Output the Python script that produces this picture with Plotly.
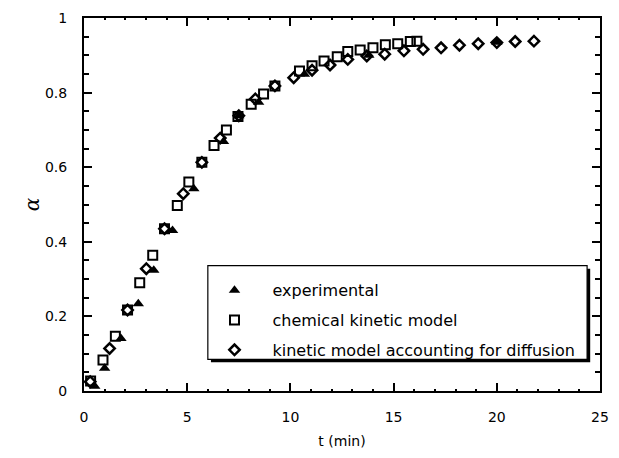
import plotly.graph_objects as go

# experimental (filled triangles)
exp_t = [0.52, 1.0, 1.79, 2.63, 3.38, 4.29, 5.32, 6.76, 7.5, 8.46, 10.68, 13.8, 20.0]
exp_a = [0.013, 0.061, 0.141, 0.234, 0.324, 0.43, 0.542, 0.669, 0.738, 0.774, 0.849, 0.90, 0.935]

# chemical kinetic model (open squares)
chem_t = [0.32, 0.92, 1.52, 2.11, 2.7, 3.33, 3.9, 4.52, 5.08, 5.71, 6.3, 6.9, 7.46, 8.1, 8.7,
          9.25, 10.44, 11.05, 11.63, 12.27, 12.78, 13.38, 14.0, 14.6, 15.2, 15.81, 16.13]
chem_a = [0.027, 0.083, 0.147, 0.217, 0.29, 0.364, 0.435, 0.497, 0.56, 0.613, 0.658, 0.70, 0.736,
          0.769, 0.796, 0.818, 0.858, 0.872, 0.885, 0.896, 0.91, 0.914, 0.92, 0.928, 0.931, 0.937, 0.938]

# kinetic model accounting for diffusion (open diamonds)
diff_t = [0.3, 1.24, 2.11, 3.02, 3.9, 4.81, 5.71, 6.6, 7.5, 8.3, 9.25, 10.16, 11.05, 11.92, 12.78,
          13.7, 14.57, 15.5, 16.43, 17.3, 18.19, 19.1, 20.0, 20.89, 21.8]
diff_a = [0.025, 0.114, 0.217, 0.328, 0.435, 0.529, 0.613, 0.678, 0.738, 0.783, 0.818, 0.84, 0.86,
          0.874, 0.889, 0.898, 0.903, 0.912, 0.916, 0.92, 0.927, 0.931, 0.934, 0.937, 0.938]

series_names = ["experimental", "chemical kinetic model", "kinetic model accounting for diffusion"]

font_family = "DejaVu Sans, Verdana, sans-serif"

fig = go.Figure()
fig.add_trace(go.Scatter(
    x=exp_t, y=exp_a, mode="markers", name=series_names[0], legendgroup="g1",
    marker=dict(symbol="triangle-up", size=10, color="black", line=dict(width=0)),
))
fig.add_trace(go.Scatter(
    x=chem_t, y=chem_a, mode="markers", name=series_names[1], legendgroup="g2",
    marker=dict(symbol="square-open", size=9, color="black", line=dict(width=2, color="black")),
))
fig.add_trace(go.Scatter(
    x=diff_t, y=diff_a, mode="markers", name=series_names[2], legendgroup="g3",
    marker=dict(symbol="diamond-open", size=8, color="black", line=dict(width=2.5, color="black")),
))

axis_common = dict(
    showline=True, linecolor="black", linewidth=2, mirror="ticks",
    ticks="inside", tickcolor="black", tickwidth=1.5, ticklen=8,
    showgrid=False, zeroline=False,
    tickfont=dict(family=font_family, size=14, color="black"),
)

# legend frame with drop shadow (paper coordinates)
fig.add_shape(type="rect", xref="paper", yref="paper",
              x0=0.246, x1=0.981, y0=0.077, y1=0.328,
              fillcolor="black", line=dict(width=0), layer="above")
fig.add_shape(type="rect", xref="paper", yref="paper",
              x0=0.240, x1=0.975, y0=0.085, y1=0.336,
              fillcolor="white", line=dict(width=1.2, color="black"), layer="above")

fig.update_layout(
    width=619, height=458,
    margin=dict(l=84, r=10, t=17, b=67),
    paper_bgcolor="white", plot_bgcolor="white",
    font=dict(family=font_family, size=13, color="black"),
    showlegend=True,
    legend=dict(
        x=0.218, y=0.3155, xanchor="left", yanchor="top",
        bgcolor="rgba(0,0,0,0)", borderwidth=0,
        font=dict(family=font_family, size=16, color="black"),
        itemsizing="trace", itemwidth=66, tracegroupgap=6,
    ),
)

fig.update_xaxes(
    range=[0, 25], tickvals=[0, 5, 10, 15, 20, 25],
    minor=dict(ticks="inside", ticklen=2, tickcolor="black", dtick=1),
    title=dict(text="t (min)", font=dict(family=font_family, size=14, color="black"), standoff=12),
    ticklabelstandoff=12,
    **axis_common,
)
fig.update_yaxes(
    range=[0, 1], tickvals=[0, 0.2, 0.4, 0.6, 0.8, 1],
    ticktext=["0", "0.2", "0.4", "0.6", "0.8", "1"],
    minor=dict(ticks="inside", ticklen=5, tickcolor="black", dtick=0.05),
    title=dict(text="<i>α</i>", font=dict(family="DejaVu Serif, serif", size=20, color="black"), standoff=0),
    ticklabelstandoff=12,
    **axis_common,
)

fig.write_html("out.html")
